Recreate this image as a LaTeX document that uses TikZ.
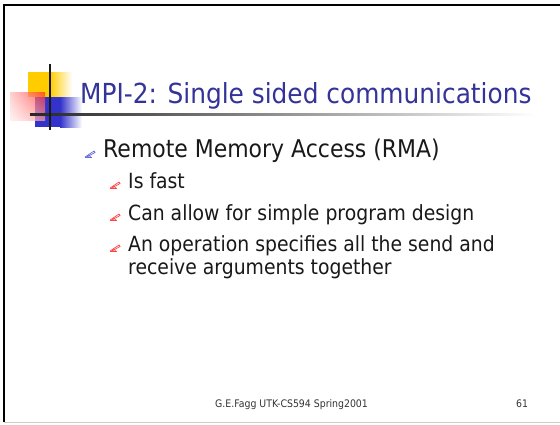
\documentclass[tikz,border=0pt]{standalone}
\usepackage{fontspec}
\usetikzlibrary{shadings}
\newfontfamily\slidefont[FakeStretch=0.9]{DejaVu Sans}
\definecolor{titleblue}{HTML}{333399}
\definecolor{logoyellow}{HTML}{FFCC00}
\definecolor{logoblue}{HTML}{3333CC}
\definecolor{logored}{HTML}{FF2A2A}
\definecolor{penblue}{HTML}{6666DD}
\definecolor{penred}{HTML}{FF4444}
\tikzset{
  slidetitle/.style={anchor=base west, inner sep=0pt, text=titleblue,
    font=\slidefont\fontsize{27.6}{30}\selectfont},
  levelone/.style={anchor=base west, inner sep=0pt, text=black!90,
    font=\slidefont\fontsize{24.4}{27}\selectfont},
  leveltwo/.style={anchor=base west, inner sep=0pt, text=black!90,
    font=\slidefont\fontsize{20.9}{23}\selectfont},
  footer/.style={anchor=base west, inner sep=0pt, text=black!80,
    font=\slidefont\fontsize{10.4}{12}\selectfont},
  pen/.pic={
    \draw[line width=0.7pt, pic actions] (0,0) -- (7,0);
    \draw[line width=0.7pt, pic actions] (0,0) -- (9,-6) -- (10,-4.5) -- (2,0);
    \draw[line width=0.5pt, pic actions] (3,-2) -- (6,0);
  }
}
\begin{document}
\begin{tikzpicture}[x=1pt, y=-1pt]
  \useasboundingbox (0,0) rectangle (560,424);
  \fill[white] (0,0) rectangle (560,424);

  % slide frame
  \draw[line width=2pt, black] (4,422) -- (4,5) -- (560,5);
  \draw[line width=1pt, black!20] (4,422.5) -- (560,422.5);

  % title logo: yellow, blue and red squares
  \fill[logoyellow] (28,72) rectangle (50,97);
  \shade[left color=logoyellow, right color=white] (50,72) rectangle (72,97);
  \fill[logoblue] (35,97) rectangle (60,127);
  \shade[left color=logoblue, right color=white] (60,97) rectangle (82,127);
  \shade[upper right=logored, lower right=logored!45, upper left=logored!30,
         lower left=logored!8, opacity=0.72] (10,92) rectangle (45,120);

  % crosshair lines
  \shade[left color=black!85, right color=white] (30,113) rectangle (535,115);
  \fill[black!90] (48.8,64) rectangle (51,130);

  % title
  \node[slidetitle] (title) at (80,103) {MPI-2: Single sided communications};

  % first-level bullet
  \pic[penblue] at (85,157) {pen};
  \node[levelone] (rma) at (103,157) {Remote Memory Access (RMA)};

  % second-level bullets
  \pic[penred] at (110,188) {pen};
  \node[leveltwo] (fast) at (128,188) {Is fast};
  \pic[penred] at (110,220) {pen};
  \node[leveltwo] (design) at (128,220) {Can allow for simple program design};
  \pic[penred] at (110,251) {pen};
  \node[leveltwo] (oper) at (128,251) {An operation specifies all the send and};
  \node[leveltwo] (recv) at (128,274) {receive arguments together};

  % footer
  \node[footer] (foot) at (215,407) {G.E.Fagg UTK-CS594 Spring2001};
  \node[footer] (page) at (516,407) {61};
\end{tikzpicture}
\end{document}
